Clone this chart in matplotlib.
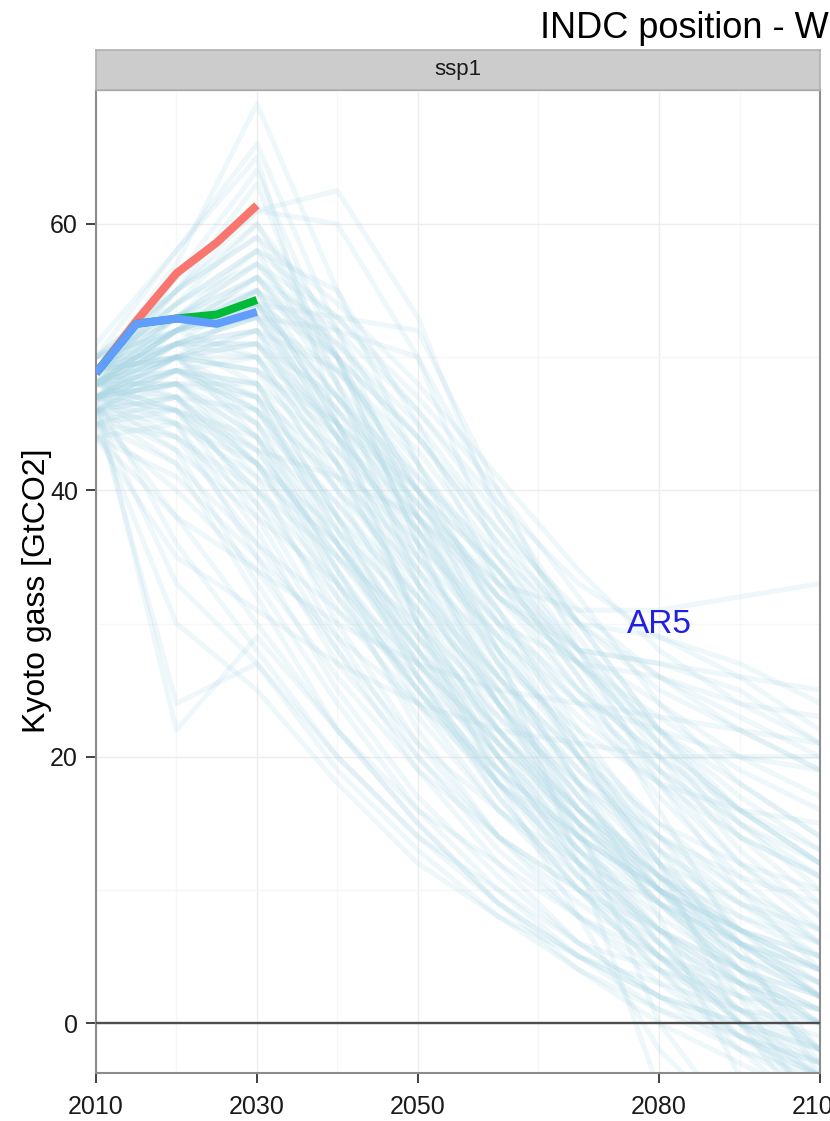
import matplotlib
matplotlib.use("Agg")
import matplotlib.pyplot as plt
from matplotlib.ticker import FixedLocator

plt.rcParams['font.family'] = ['Liberation Sans', 'DejaVu Sans']

# ---------------- data ----------------
ar5_years = [2010, 2020, 2030, 2040, 2050, 2060, 2070, 2080, 2090, 2100]

ar5_high = [
    [49, 57, 69, 55, 42, 30, 20, 12, 6, 2],
    [50, 58, 66, 52, 38, 27, 18, 10, 4, 0],
    [48, 56, 64, 50, 36, 25, 16, 9, 3, -2],
    [49, 56, 61, 62.5, 53, 38, 30, 29, 27, 24],
    [48, 55, 61, 60, 50, 35, 28, 27, 25, 21],
    [49, 55, 63, 48, 33, 22, 14, 7, 1, -4],
    [51, 58, 65, 45, 30, 20, 12, 6, 0, -6],
    [49, 54, 60, 52, 42, 33, 25, 18, 12, 8],
    [49, 54, 58, 55, 45, 33, 31, 31, 32, 33],
    [48, 53, 56, 50, 40, 32, 28, 27, 26, 25],
    [49, 53, 58, 48, 37, 27, 18, 8, -4, -10],
    [50, 55, 60, 50, 38, 28, 20, 12, 0, -8],
    [50, 54, 57, 53, 47, 40, 32, 24, 18, 14],
    [49, 53, 56, 52, 46, 38, 30, 22, 15, 10],
    [50, 55, 59, 54, 48, 41, 34, 28, 24, 21],
    [49, 54, 58, 53, 46, 39, 33, 29, 26, 22],
    [48, 53, 57, 51, 44, 37, 31, 26, 22, 19],
    [50, 53, 55, 50, 36, 24, 14, 6, 0, -4],
    [49, 52, 54, 53, 52, 40, 28, 18, 10, 4],
    [48, 51, 53, 52, 50, 39, 30, 22, 16, 12],
    [50, 52, 55, 51, 45, 37, 29, 21, 14, 9],
    [49, 51, 53, 49, 43, 35, 27, 19, 12, 7],
    [49, 55, 59, 50, 40, 28, 12, -5, -10, -10],
    [48, 52, 54, 44, 30, 18, 8, -2, -8, -10],
]

ar5_mid = [
    [48, 52, 56, 48, 40, 32, 25, 20, 15, 11],
    [47, 51, 55, 45, 35, 26, 18, 12, 7, 4],
    [49, 53, 57, 50, 44, 36, 30, 25, 22, 19],
    [48, 52, 54, 46, 37, 28, 21, 15, 10, 6],
    [50, 52, 53, 44, 33, 24, 16, 10, 5, 2],
    [48, 51, 52, 42, 31, 21, 13, 6, 1, -3],
    [47, 50, 51, 43, 34, 26, 19, 13, 8, 5],
    [49, 51, 50, 40, 29, 20, 12, 5, -1, -5],
    [48, 50, 49, 41, 32, 24, 17, 11, 6, 2],
    [47, 49, 48, 38, 28, 19, 11, 5, 0, -3],
    [46, 49, 47, 36, 26, 18, 12, 7, 3, 0],
    [48, 50, 46, 37, 29, 23, 18, 14, 11, 9],
    [49, 50, 45, 34, 24, 16, 10, 5, 1, -2],
    [47, 48, 44, 33, 22, 14, 8, 3, -1, -4],
    [46, 47, 43, 35, 27, 21, 16, 12, 9, 7],
    [48, 48, 42, 32, 23, 16, 11, 7, 4, 2],
    [47, 47, 41, 30, 21, 14, 9, 5, 2, 0],
    [46, 46, 40, 31, 24, 18, 14, 10, 7, 5],
    [48, 47, 39, 29, 20, 13, 8, 4, 1, -1],
    [47, 46, 38, 28, 19, 12, 6, 2, -2, -5],
    [46, 45, 37, 27, 20, 14, 10, 6, 3, 1],
    [45, 44, 36, 28, 21, 16, 12, 9, 6, 4],
    [49, 52, 55, 47, 38, 30, 27, 26, 24, 23],
    [47, 50, 52, 44, 36, 29, 24, 22, 20, 20],
    [48, 51, 53, 45, 35, 27, 22, 18, 16, 15],
    [48, 52, 55, 45, 34, 24, 15, 0, -8, -10],
    [47, 50, 50, 42, 33, 25, 17, 10, 3, -2],
    [48, 49, 47, 40, 33, 26, 20, 15, 12, 10],
    [49, 52, 50, 42, 30, 22, 15, 9, 4, 1],
    [48, 51, 48, 38, 27, 19, 13, 8, 4, 1],
    [47, 49, 46, 39, 31, 23, 16, 10, 5, 2],
    [49, 50, 47, 37, 26, 17, 10, 4, -1, -4],
    [48, 49, 45, 36, 27, 20, 14, 9, 5, 3],
    [47, 48, 44, 34, 25, 18, 13, 9, 6, 4],
    [46, 47, 42, 33, 25, 19, 14, 10, 7, 5],
    [48, 48, 43, 35, 28, 22, 16, 11, 7, 4],
    [49, 50, 44, 36, 28, 20, 13, 7, 2, -2],
    [47, 49, 46, 38, 30, 22, 15, 9, 4, 0],
    [48, 52, 54, 50, 44, 36, 28, 20, 13, 8],
    [47, 50, 52, 49, 42, 34, 26, 19, 14, 11],
    [47, 52, 56, 49, 41, 35, 30, 26, 23, 20],
    [46, 50, 54, 47, 39, 32, 27, 23, 19, 16],
    [48, 51, 52, 46, 39, 33, 28, 24, 20, 17],
    [47, 49, 50, 45, 38, 32, 27, 22, 18, 14],
    [46, 48, 48, 43, 37, 30, 24, 19, 15, 12],
    [45, 47, 46, 41, 35, 29, 23, 18, 14, 11],
    [47, 48, 47, 42, 36, 30, 25, 20, 16, 13],
    [48, 50, 49, 44, 38, 31, 24, 17, 11, 6],
    [49, 51, 51, 45, 39, 31, 22, 14, 7, 2],
    [50, 53, 54, 47, 40, 31, 21, 12, 4, -3],
    [48, 52, 53, 46, 40, 34, 26, 16, 6, -4],
    [47, 51, 51, 44, 37, 29, 20, 11, 2, -7],
    [46, 49, 48, 40, 34, 28, 21, 13, 5, -2],
    [48, 50, 51, 47, 41, 34, 27, 21, 16, 12],
    [49, 50, 49, 45, 40, 34, 28, 22, 17, 13],
    [47, 48, 45, 39, 32, 24, 17, 11, 6, 3],
]

ar5_low = [
    [48, 45, 35, 25, 17, 11, 6, 2, -1, -3],
    [47, 43, 33, 24, 16, 10, 5, 1, -2, -4],
    [46, 42, 32, 22, 15, 9, 4, 0, -3, -6],
    [45, 40, 34, 26, 19, 14, 10, 7, 4, 2],
    [44, 38, 30, 22, 16, 12, 8, 5, 3, 1],
    [47, 36, 28, 20, 14, 9, 5, 2, 0, -2],
    [46, 33, 27, 19, 13, 8, 4, 1, -1, -3],
    [45, 30, 25, 18, 12, 8, 5, 3, 1, 0],
    [47, 22, 29, 22, 15, 9, 5, 2, 0, -2],
    [46, 24, 27, 20, 14, 10, 6, 4, 2, 1],
    [45, 46, 44, 38, 32, 26, 20, 14, 9, 5],
    [44, 45, 42, 37, 31, 25, 19, 14, 10, 7],
    [46, 44, 40, 35, 30, 24, 18, 13, 9, 6],
    [47, 45, 41, 36, 29, 22, 16, 11, 7, 3],
    [48, 46, 42, 36, 28, 21, 15, 10, 6, 3],
    [46, 43, 38, 33, 27, 21, 15, 10, 6, 2],
    [45, 42, 36, 31, 26, 20, 15, 11, 8, 6],
    [44, 41, 35, 29, 24, 19, 14, 10, 7, 4],
    [47, 44, 39, 32, 25, 18, 12, 7, 3, 0],
    [49, 47, 42, 34, 26, 18, 11, 5, 0, -4],
    [48, 46, 40, 33, 25, 17, 10, 4, -2, -7],
    [47, 46, 43, 41, 38, 33, 27, 21, 16, 12],
    [44, 35, 31, 27, 24, 22, 21, 20, 20, 19],
    [46, 38, 34, 30, 27, 25, 24, 23, 22, 21],
]

indc_years = [2010, 2015, 2020, 2025, 2030]
indc_red = [48.8, 52.7, 56.3, 58.6, 61.4]
indc_green = [48.8, 52.5, 52.9, 53.2, 54.3]
indc_blue = [48.8, 52.5, 52.9, 52.5, 53.4]

x_ticks = [2010, 2030, 2050, 2080, 2100]
x_minor = [2020, 2040, 2065, 2090]
y_ticks = [0, 20, 40, 60]
y_minor = [10, 30, 50, 70]

# ---------------- figure ----------------
W, H = 830, 1121
fig = plt.figure(figsize=(W / 100, H / 100), dpi=100)
fig.patch.set_facecolor('white')

ax = fig.add_axes([96 / W, 48 / H, 724 / W, 983 / H])
ax.set_xlim(2010, 2100)
ax.set_ylim(-3.75, 70.06)

ax.xaxis.set_major_locator(FixedLocator(x_ticks))
ax.xaxis.set_minor_locator(FixedLocator(x_minor))
ax.yaxis.set_major_locator(FixedLocator(y_ticks))
ax.yaxis.set_minor_locator(FixedLocator(y_minor))
ax.grid(which='major', color='#EDEDED', lw=1.0, zorder=0)
ax.grid(which='minor', color='#F7F7F7', lw=1.0, zorder=0)
ax.set_axisbelow(True)

for group in (ar5_high, ar5_mid, ar5_low):
    for traj in group:
        ax.plot(ar5_years, traj, color='#ADD8E6', alpha=0.2, lw=3.6,
                solid_joinstyle='round', zorder=1)

ax.axhline(0, color='#4D4D4D', lw=1.7, zorder=5)

for vals, col in ((indc_red, '#F8766D'), (indc_green, '#00BA38'), (indc_blue, '#619CFF')):
    ax.plot(indc_years, vals, color=col, lw=5.8, solid_capstyle='butt',
            solid_joinstyle='round', zorder=4)

ax.text(2080, 29.9, 'AR5', color='#2020E0', fontsize=24, ha='center', va='center', zorder=6)

for s in ax.spines.values():
    s.set_color('#8C8C8C')
    s.set_linewidth(1.5)

ax.tick_params(axis='both', which='major', length=7, width=1.3, color='#333333',
               labelsize=18, labelcolor='#1A1A1A')
ax.tick_params(axis='x', which='major', pad=9)
ax.tick_params(axis='y', which='major', pad=6)
ax.tick_params(which='minor', length=0)
ax.set_xticklabels([str(v) for v in x_ticks])
ax.set_yticklabels([str(v) for v in y_ticks])

# facet strip
sax = fig.add_axes([96 / W, 1 - 90 / H, 724 / W, 40 / H])
sax.set_facecolor('#CCCCCC')
sax.set_xticks([])
sax.set_yticks([])
for s in sax.spines.values():
    s.set_color('#B0B0B0')
    s.set_linewidth(1.2)
sax.text(0.5, 0.5, 'ssp1', ha='center', va='center', fontsize=16,
         color='#1A1A1A', transform=sax.transAxes)

# y label
fig.text(37 / W, 1 - 591 / H, 'Kyoto gass [GtCO2]', rotation=90,
         ha='center', va='center', fontsize=23, color='black')

# title (cut at right edge in the reference)
fig.text(540 / W, 1 - 38 / H, 'INDC position - W', ha='left', va='baseline',
         fontsize=26, color='black')

fig.savefig('out.png', dpi=100)
